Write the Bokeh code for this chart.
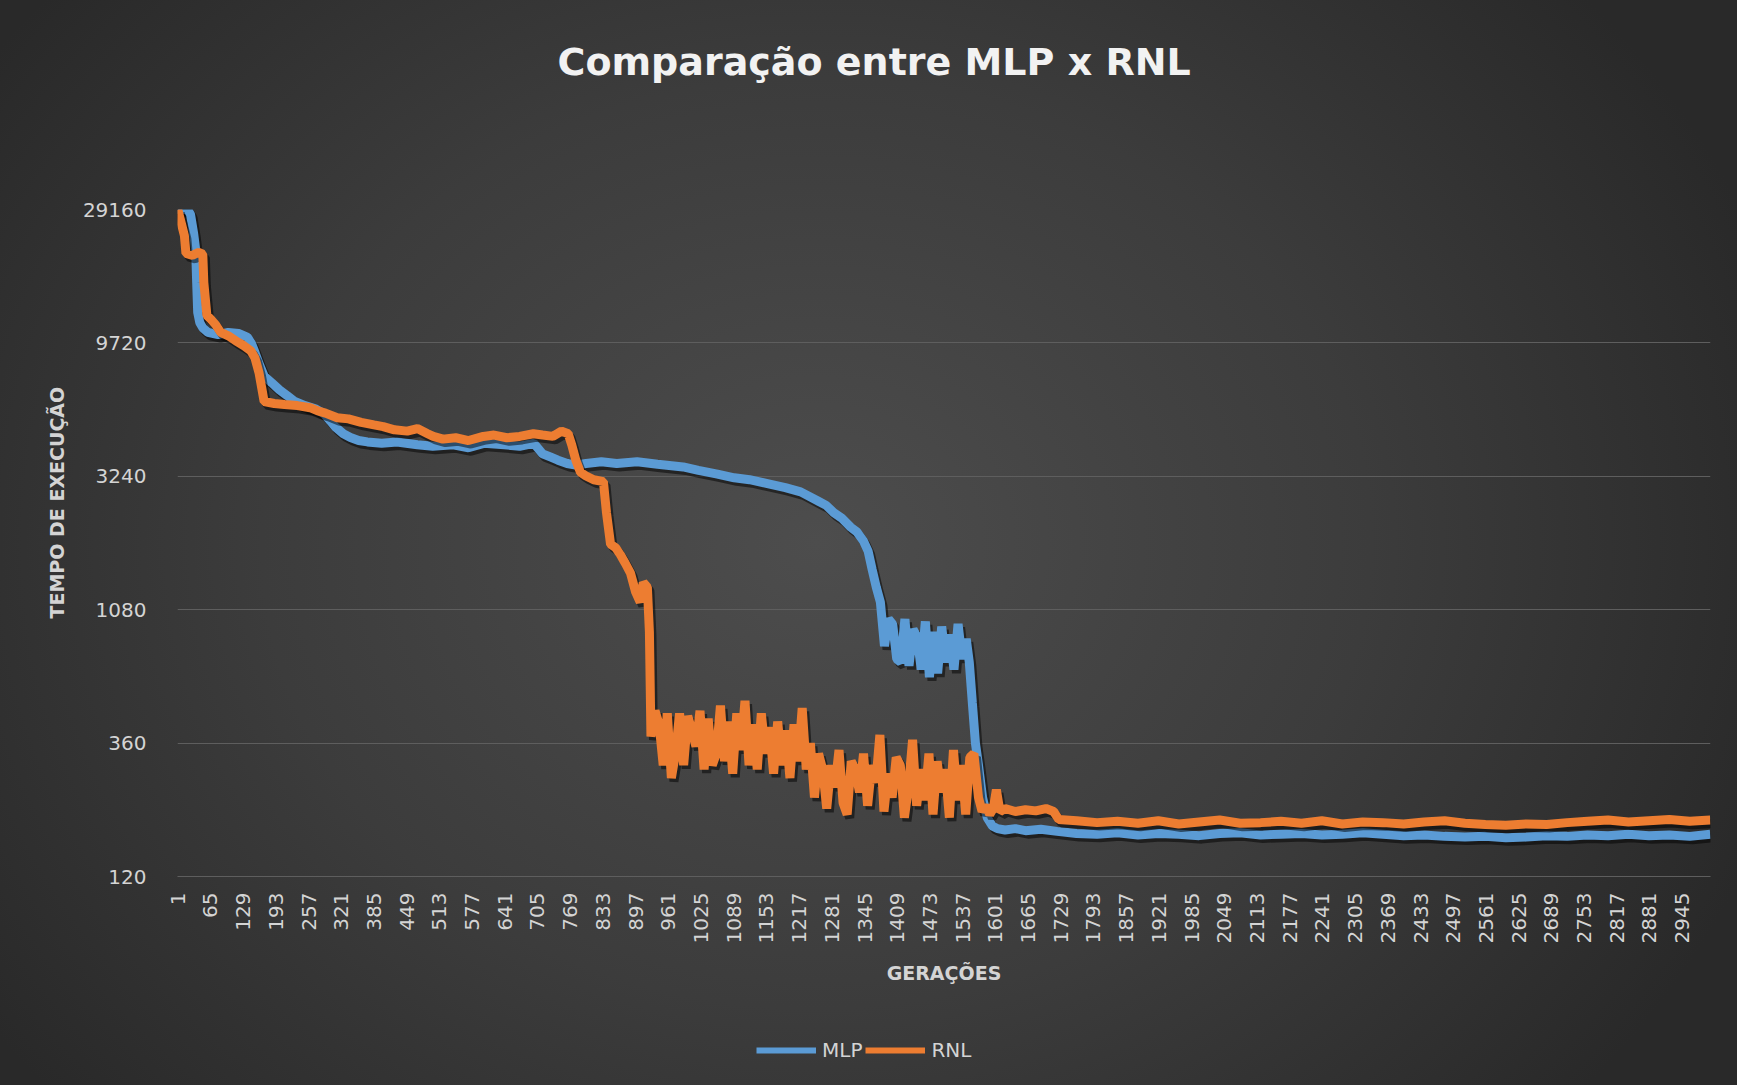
import math
from bokeh.plotting import figure
from bokeh.layouts import column
from bokeh.models import Range1d, FixedTicker, Legend, LegendItem, Title
from bokeh.embed import file_html
from bokeh.resources import INLINE

# ---------------- data ----------------
titulo = "Comparação  entre MLP x RNL"
titulo_y = "TEMPO DE EXECUÇÃO"
titulo_x = "GERAÇÕES"
series_nomes = ["MLP", "RNL"]

# MLP: descent up to the big drop
mlp_g1 = [1, 20, 26, 32, 36, 38, 40, 44, 50, 60, 80, 100, 120, 137, 145, 152, 160, 170, 185, 200,
          215, 230, 250, 270, 287, 300, 310, 325, 339, 355, 372, 400, 430, 470, 500, 540, 570, 600,
          640, 670, 698, 715, 730, 745, 763, 780, 800, 830, 860, 900, 940, 990, 1020, 1057, 1090,
          1120, 1155, 1190, 1220, 1253, 1270, 1285, 1300, 1318, 1330, 1343, 1352, 1360, 1368]
mlp_v1 = [29160, 29160, 28000, 24000, 21000, 16000, 12500, 11500, 11000, 10600, 10400, 10600, 10500,
          10200, 9700, 9000, 8200, 7400, 7000, 6600, 6300, 6000, 5800, 5650, 5430, 5100, 4850, 4600,
          4460, 4350, 4300, 4250, 4300, 4200, 4150, 4200, 4100, 4250, 4200, 4150, 4250, 3900, 3800,
          3700, 3600, 3550, 3600, 3650, 3600, 3650, 3580, 3500, 3400, 3300, 3200, 3150, 3050, 2950,
          2850, 2650, 2550, 2400, 2300, 2130, 2050, 1900, 1750, 1500, 1300]
# MLP: noisy band and final drop
mlp_g2 = [1376, 1384, 1392, 1400, 1408, 1416, 1424, 1432, 1440, 1448, 1456, 1464, 1472, 1480, 1488,
          1496, 1504, 1512, 1520, 1528, 1536, 1544, 1550, 1556, 1562, 1568, 1576, 1585, 1595, 1605,
          1620, 1640, 1660, 1690, 1722]
mlp_v2 = [1150, 800, 1000, 960, 720, 700, 1000, 680, 920, 860, 660, 980, 620, 900, 640, 940, 700,
          880, 660, 960, 720, 850, 700, 500, 360, 300, 230, 195, 182, 178, 176, 178, 175, 177, 174]
# plateau (both series sampled at the same generations)
geracoes_fim = [1760, 1800, 1840, 1880, 1920, 1960, 2000, 2040, 2080, 2120, 2160, 2200, 2240, 2280,
                2320, 2360, 2400, 2440, 2480, 2520, 2560, 2600, 2640, 2680, 2720, 2760, 2800, 2840,
                2880, 2920, 2960, 3000]
mlp_v3 = [171, 170, 172, 169, 171, 170, 168, 171, 172, 169, 170, 171, 169, 170, 172, 170, 168, 169,
          167, 166, 167, 165, 166, 168, 167, 169, 168, 170, 168, 169, 167, 170]

# RNL: descent
rnl_g1 = [1, 8, 14, 17, 30, 42, 50, 52, 58, 66, 75, 85, 100, 118, 130, 144, 152, 160, 166, 170, 190,
          210, 235, 260, 274, 290, 313, 335, 360, 385, 403, 425, 450, 470, 490, 501, 520, 545, 570,
          599, 620, 645, 670, 697, 715, 735, 752, 765, 772, 780, 789, 800, 815, 834, 840, 848, 858,
          867, 877, 887, 897, 906, 912, 920, 924]
rnl_v1 = [29160, 26000, 23500, 20300, 20000, 20500, 20200, 16000, 12200, 11800, 11300, 10600, 10300,
          9800, 9500, 9100, 8600, 7600, 6600, 6000, 5900, 5850, 5800, 5700, 5560, 5450, 5250, 5200,
          5050, 4950, 4880, 4750, 4700, 4800, 4600, 4500, 4400, 4450, 4350, 4500, 4550, 4450, 4500,
          4600, 4550, 4500, 4700, 4600, 4200, 3700, 3350, 3250, 3150, 3100, 2400, 1850, 1800, 1700,
          1580, 1460, 1250, 1150, 1350, 1300, 900]
# RNL: noisy band (upper part)
rnl_g2 = list(range(927, 1232, 8))
rnl_v2 = [380, 470, 420, 300, 460, 270, 330, 460, 300, 450, 400, 350, 470, 290, 440, 300, 330, 490,
          310, 430, 280, 460, 340, 510, 300, 420, 290, 460, 330, 410, 280, 430, 300, 400, 270, 420,
          310, 480, 290]
# RNL: noisy band (lower part)
rnl_g3 = list(range(1239, 1564, 8))
rnl_v3 = [360, 230, 330, 290, 210, 300, 250, 340, 220, 200, 310, 290, 240, 330, 215, 300, 260, 385,
          205, 280, 230, 320, 300, 195, 250, 370, 215, 290, 225, 330, 200, 310, 240, 290, 195, 340,
          225, 300, 200, 320, 330]
# RNL: final drop
rnl_g4 = [1568, 1575, 1583, 1590, 1597, 1603, 1610, 1620, 1640, 1660, 1680, 1700, 1715, 1725]
rnl_v4 = [230, 205, 215, 200, 210, 245, 205, 210, 205, 208, 206, 210, 205, 192]
rnl_v5 = [190, 187, 189, 186, 190, 185, 188, 191, 186, 187, 189, 186, 190, 185, 188, 187, 185, 188,
          190, 186, 184, 183, 185, 184, 187, 189, 191, 188, 190, 192, 189, 191]

marcas_x = list(range(1, 3000, 64))
rotulos_x = [str(g) for g in marcas_x]
marcas_y = [120, 360, 1080, 3240, 9720, 29160]
rotulos_y = ["120", "360", "1080", "3240", "9720", "29160"]

mlp_g = mlp_g1 + mlp_g2 + geracoes_fim
mlp_v = mlp_v1 + mlp_v2 + mlp_v3
rnl_g = rnl_g1 + rnl_g2 + rnl_g3 + rnl_g4 + geracoes_fim
rnl_v = rnl_v1 + rnl_v2 + rnl_v3 + rnl_v4 + rnl_v5

# ---------------- styling ----------------
AZUL = "#5B9BD5"
LARANJA = "#ED7D31"
GRADE = "#5e5e5e"
TXT = "#d4d4d4"
FONTE = "DejaVu Sans"
LW = 9
SOMBRA_DX = 5          # generations
SOMBRA_FY = 3 ** (-3.5 / 133.4)
W = 1737

p = figure(width=W, height=1010, output_backend="svg", toolbar_location=None,
           x_range=Range1d(0.5, 3000.5), y_range=Range1d(120, 29160), y_axis_type="log",
           min_border_left=177, min_border_right=27, min_border_top=209, min_border_bottom=134)
p.background_fill_alpha = 0
p.border_fill_alpha = 0
p.outline_line_color = None

p.title.text = titulo
p.title.align = "left"
p.title.offset = 380
p.title.vertical_align = "top"
p.title.standoff = 0
p.title.text_font = FONTE
p.title.text_font_size = "38px"
p.title.text_font_style = "bold"
p.title.text_color = "#f2f2f2"
# spacer between the frame and the title
p.add_layout(Title(text=" ", text_font_size="10px", standoff=111), "above")

xa = p.xaxis[0]
xa.ticker = FixedTicker(ticks=marcas_x)
xa.major_label_overrides = {g: s for g, s in zip(marcas_x, rotulos_x)}
xa.major_label_orientation = math.pi / 2
xa.major_label_standoff = 10
xa.major_tick_line_color = None
xa.minor_tick_line_color = None
xa.axis_line_color = GRADE
xa.major_label_text_font = FONTE
xa.major_label_text_font_size = "20px"
xa.major_label_text_color = TXT
xa.axis_label = titulo_x
xa.axis_label_standoff = 16
xa.axis_label_text_font = FONTE
xa.axis_label_text_font_size = "19px"
xa.axis_label_text_font_style = "bold"
xa.axis_label_text_color = TXT

ya = p.yaxis[0]
ya.ticker = FixedTicker(ticks=marcas_y)
ya.major_label_overrides = {v: s for v, s in zip(marcas_y, rotulos_y)}
ya.major_label_standoff = 25
ya.major_tick_line_color = None
ya.minor_tick_line_color = None
ya.axis_line_color = None
ya.major_label_text_font = FONTE
ya.major_label_text_font_size = "20px"
ya.major_label_text_color = TXT

# vertical axis title, placed a little above the frame's centre as in the original
p.add_layout(Title(text=titulo_y, align="left", offset=258, vertical_align="bottom", standoff=24,
                   text_font=FONTE, text_font_size="19px", text_font_style="bold",
                   text_color=TXT), "left")

p.xgrid.grid_line_color = None
p.ygrid.ticker = FixedTicker(ticks=marcas_y)
p.ygrid.grid_line_color = GRADE
p.ygrid.grid_line_width = 1

def sombra(g, v):
    return [x + SOMBRA_DX for x in g], [y * SOMBRA_FY for y in v]

sx, sy = sombra(mlp_g, mlp_v)
p.line(sx, sy, line_color="black", line_alpha=0.5, line_width=LW, line_join="bevel")
p.line(mlp_g, mlp_v, line_color=AZUL, line_width=LW, line_join="bevel")
sx, sy = sombra(rnl_g, rnl_v)
p.line(sx, sy, line_color="black", line_alpha=0.5, line_width=LW, line_join="bevel")
p.line(rnl_g, rnl_v, line_color=LARANJA, line_width=LW, line_join="bevel")

# ---------------- legend strip (own small figure, below the chart) ----------------
pl = figure(width=W, height=75, output_backend="svg", toolbar_location=None,
            x_range=Range1d(0, 1), y_range=Range1d(0, 1),
            x_axis_location=None, y_axis_location=None, min_border=0)
pl.background_fill_alpha = 0
pl.border_fill_alpha = 0
pl.outline_line_color = None
pl.grid.visible = False
# swatch carriers: their points lie outside the visible range, only the legend shows them
l_mlp = pl.line([-5, -4], [-5, -4], line_color=AZUL, line_width=6)
l_rnl = pl.line([-5, -4], [-5, -4], line_color=LARANJA, line_width=6)
legend = Legend(items=[LegendItem(label=series_nomes[0], renderers=[l_mlp]),
                       LegendItem(label=series_nomes[1], renderers=[l_rnl])],
                orientation="horizontal", location=(579, 23),
                background_fill_alpha=0, border_line_color=None,
                glyph_width=60, glyph_height=20, label_standoff=6, spacing=3,
                padding=5, margin=0, label_text_font=FONTE,
                label_text_font_size="20px", label_text_color=TXT)
pl.add_layout(legend, "center")

pagina = column(p, pl, spacing=0)
pagina.styles = {"background": "radial-gradient(ellipse 58% 78% at 47% 50%, #4d4d4d 0%, #3c3c3c 55%, #292929 100%)"}

open("out.html", "w").write(file_html(pagina, INLINE))
